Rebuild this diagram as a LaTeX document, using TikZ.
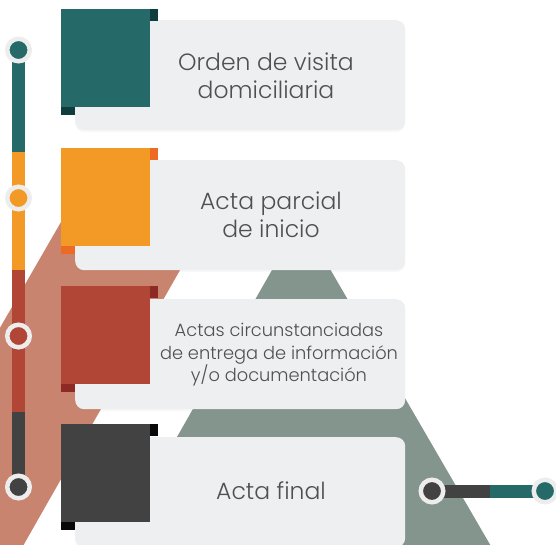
\documentclass[tikz,border=0pt]{standalone}
\usepackage{fontspec}
\setmainfont{Poppins}[UprightFont={* Light}]
\usetikzlibrary{shadows}

\definecolor{tealc}{HTML}{256A68}
\definecolor{tealdark}{HTML}{0F3C3D}
\definecolor{orangec}{HTML}{F39A26}
\definecolor{orangedark}{HTML}{EC6A22}
\definecolor{redc}{HTML}{B14536}
\definecolor{reddark}{HTML}{8E2A26}
\definecolor{darkc}{HTML}{424242}
\definecolor{darkdark}{HTML}{080808}
\definecolor{salmon}{HTML}{C9846F}
\definecolor{sage}{HTML}{84958D}
\definecolor{cardc}{HTML}{EEEFF1}
\definecolor{ringc}{HTML}{EDEDED}
\definecolor{textc}{HTML}{505050}

\begin{document}
\begin{tikzpicture}[x=1pt, y=-1pt,
            card/.style={fill=cardc, rounded corners=9pt, minimum width=330pt, minimum height=110pt,
                anchor=north west, inner sep=0pt,
                drop shadow={opacity=0.06, shadow xshift=0pt, shadow yshift=-2pt}},
            sq/.style={minimum width=89pt, minimum height=98pt, anchor=north west, inner sep=0pt},
            tabr/.style={minimum width=8pt, minimum height=12pt, anchor=north west, inner sep=0pt},
            tabl/.style={minimum width=14pt, minimum height=8pt, anchor=north west, inner sep=0pt},
            dot/.style={circle, draw=ringc, line width=4.5pt, minimum size=22.5pt, inner sep=0pt},
            bar/.style={line width=13pt},
            caption/.style={align=center, text=textc, font=\fontsize{23.5}{28.5}\selectfont},
            smallcaption/.style={align=center, text=textc, font=\fontsize{17.8}{22.5}\selectfont}]
        \useasboundingbox (0,0) rectangle (556,544);
        \clip (0,0) rectangle (556,544);

        \fill[salmon] (91,170) -- (237,170) -- (15,560) -- (-134,560) -- cycle;
        \fill[sage] (301,219) -- (499,560) -- (107,560) -- cycle;

        \node[card] (card1) at (75,20) {};
        \node[card] (card2) at (75,160) {};
        \node[card] (card3) at (75,299) {};
        \node[card] (card4) at (75,437) {};

        \node[sq, fill=tealc] (sq1) at (61,9) {};
        \node[tabr, fill=tealdark] (tr1) at (150,9) {};
        \node[tabl, fill=tealdark] (tl1) at (61,107) {};
        \node[sq, fill=orangec] (sq2) at (61,148) {};
        \node[tabr, fill=orangedark] (tr2) at (150,148) {};
        \node[tabl, fill=orangedark] (tl2) at (61,246) {};
        \node[sq, fill=redc] (sq3) at (61,286) {};
        \node[tabr, fill=reddark] (tr3) at (150,286) {};
        \node[tabl, fill=reddark] (tl3) at (61,384) {};
        \node[sq, fill=darkc] (sq4) at (61,424) {};
        \node[tabr, fill=darkdark] (tr4) at (150,424) {};
        \node[tabl, fill=darkdark] (tl4) at (61,522) {};

        \node[caption] (text1) at (266,76) {Orden de visita\\domiciliaria};
        \node[caption] (text2) at (271,215) {Acta parcial\\de inicio};
        \node[smallcaption] (text3) at (279,355) {Actas circunstanciadas\\de entrega de información\\y/o documentación};
        \node[caption] (text4) at (271,491) {Acta final};

        \coordinate (p1) at (18.5,50);
        \coordinate (p2) at (18.5,198);
        \coordinate (p3) at (18.5,336);
        \coordinate (p4) at (18.5,487);
        \coordinate (m1) at (18.5,152);
        \coordinate (m2) at (18.5,270);
        \coordinate (m3) at (18.5,412);
        \draw[bar, tealc] (p1) -- (m1);
        \draw[bar, orangec] (m1) -- (m2);
        \draw[bar, redc] (m2) -- (m3);
        \draw[bar, darkc] (m3) -- (p4);
        \node[dot, fill=tealc] (dot1) at (p1) {};
        \node[dot, fill=orangec] (dot2) at (p2) {};
        \node[dot, fill=redc] (dot3) at (p3) {};
        \node[dot, fill=darkc] (dot4) at (p4) {};

        \coordinate (q1) at (432,491);
        \coordinate (q2) at (545,491);
        \coordinate (mq) at (490,491);
        \draw[bar, darkc] (q1) -- (mq);
        \draw[bar, tealc] (mq) -- (q2);
        \node[dot, fill=darkc] (dotq1) at (q1) {};
        \node[dot, fill=tealc] (dotq2) at (q2) {};
        \end{tikzpicture}
\end{document}
